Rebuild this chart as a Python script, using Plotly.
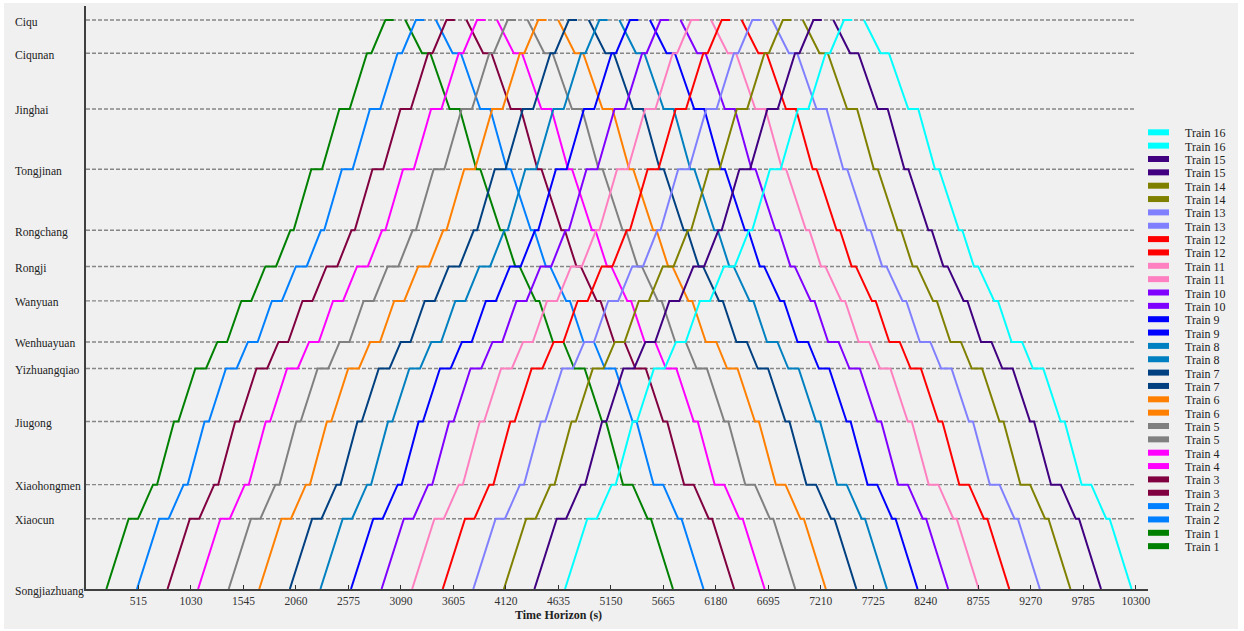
import plotly.graph_objects as go

# Stations from south (bottom) to north (top) and their line positions (m)
stations = ["Songjiazhuang", "Xiaocun", "Xiaohongmen", "Jiugong", "Yizhuangqiao",
            "Wenhuayuan", "Wanyuan", "Rongji", "Rongchang", "Tongjinan",
            "Jinghai", "Ciqunan", "Ciqu"]
station_pos = [0, 2631, 3906, 6272, 8254, 9247, 10785, 12075, 13429, 15714,
               17969, 20056, 21300]

# Running profile, seconds after leaving Songjiazhuang
# up run: arrival / departure at Xiaocun ... Ciqu
up_arr = [219, 458, 664, 873, 1089, 1324, 1560, 1805, 2011, 2286, 2557, 2737]
up_dep = [311, 497, 706, 978, 1184, 1422, 1665, 1837, 2116, 2387, 2600, 2819]
# down run: leaves Ciqu, then arrival / departure at Ciqunan ... Xiaocun, arrival at Songjiazhuang
down_start = 2933
down_arr = [3097, 3368, 3630, 3865, 4012, 4211, 4382, 4591, 4863, 5069, 5310, 5559]
down_dep = [3178, 3466, 3669, 3898, 4054, 4248, 4484, 4692, 4902, 5163, 5343]

# Trains: first departure from Songjiazhuang (s) and colour
train_names = ["Train %d" % k for k in range(1, 17)]
train_depart = [200, 500, 800, 1100, 1400, 1700, 2000, 2300,
                2600, 2900, 3200, 3500, 3800, 4100, 4400, 4700]
train_colors = ["#008000", "#0080FF", "#800040", "#FF00FF", "#808080", "#FF8000",
                "#004080", "#0080C0", "#0000FF", "#8000FF", "#FF80C0", "#FF0000",
                "#8080FF", "#808000", "#400080", "#00FFFF"]

x_ticks = [515, 1030, 1545, 2060, 2575, 3090, 3605, 4120, 4635, 5150,
           5665, 6180, 6695, 7210, 7725, 8240, 8755, 9270, 9785, 10300]

X_MAX = 10420
Y_MAX = 21824
FONT = "Liberation Serif"

fig = go.Figure()

for name, d0, col in zip(train_names, train_depart, train_colors):
    # northbound
    xs, ys = [d0], [station_pos[0]]
    for k in range(1, len(stations)):
        xs += [d0 + up_arr[k - 1], d0 + up_dep[k - 1]]
        ys += [station_pos[k], station_pos[k]]
    fig.add_trace(go.Scatter(x=xs, y=ys, mode="lines", name=name,
                             line=dict(color=col, width=2), showlegend=False,
                             hoverinfo="skip"))
    # southbound
    xs, ys = [d0 + down_start], [station_pos[-1]]
    n = len(stations)
    for j in range(n - 2):
        pos = station_pos[n - 2 - j]
        xs += [d0 + down_arr[j], d0 + down_dep[j]]
        ys += [pos, pos]
    xs.append(d0 + down_arr[-1])
    ys.append(station_pos[0])
    fig.add_trace(go.Scatter(x=xs, y=ys, mode="lines", name=name,
                             line=dict(color=col, width=2), showlegend=False,
                             hoverinfo="skip"))

L, R, T, B = 86, 96, 6, 42
W, H = 1244, 631
pw, ph = W - L - R, H - T - B


def px_x(p):
    return (p - L) / pw


def px_y(p):
    return (H - B - p) / ph


shapes = [
    # panel background
    dict(type="rect", xref="paper", yref="paper", layer="below",
         x0=px_x(4), x1=px_x(1238), y0=px_y(629), y1=px_y(3),
         fillcolor="#F0F0F0", line=dict(width=0)),
]
# station reference lines
for pos in station_pos[1:]:
    shapes.append(dict(type="line", xref="x", yref="y", layer="below",
                       x0=0, x1=x_ticks[-1], y0=pos, y1=pos,
                       line=dict(color="#868686", width=1.4, dash="4px,2px")))

annotations = []
for nm, pos in zip(stations, station_pos):
    annotations.append(dict(text=nm, xref="paper", yref="y", x=px_x(13), y=pos,
                            xanchor="left", yanchor="middle", yshift=-2,
                            showarrow=False,
                            font=dict(family=FONT, size=11.6, color="#222222")))

annotations.append(dict(text="<b>Time Horizon (s)</b>", xref="paper", yref="paper",
                        x=px_x(558.5), y=px_y(615), xanchor="center",
                        yanchor="middle", showarrow=False,
                        font=dict(family=FONT, size=12, color="#222222")))

# legend drawn as swatches + labels, Train 16 at the top
leg_top, leg_step = 132.3, 13.35
order = list(range(len(train_names)))[::-1]
row = 0
for idx in order:
    for _ in range(2):
        cy = leg_top + row * leg_step
        shapes.append(dict(type="rect", xref="paper", yref="paper",
                           x0=px_x(1148), x1=px_x(1169),
                           y0=px_y(cy + 3), y1=px_y(cy - 3),
                           fillcolor=train_colors[idx], line=dict(width=0)))
        annotations.append(dict(text=train_names[idx], xref="paper", yref="paper",
                                x=px_x(1183), y=px_y(cy + 1), xanchor="left",
                                yanchor="middle", showarrow=False,
                                font=dict(family=FONT, size=12, color="#222222")))
        row += 1

fig.update_layout(
    width=W, height=H, autosize=False,
    margin=dict(l=L, r=R, t=T, b=B, pad=0),
    paper_bgcolor="#FFFFFF", plot_bgcolor="#F0F0F0",
    showlegend=False,
    shapes=shapes, annotations=annotations,
    xaxis=dict(range=[0, X_MAX], tickvals=x_ticks,
               ticktext=[str(v) for v in x_ticks],
               ticks="inside", ticklen=4, tickcolor="#303030", tickwidth=1,
               showline=True, linecolor="#404040", linewidth=2,
               showgrid=False, zeroline=False,
               tickfont=dict(family=FONT, size=11.5, color="#333333")),
    yaxis=dict(range=[0, Y_MAX], showticklabels=False, ticks="",
               showline=True, linecolor="#404040", linewidth=2,
               showgrid=False, zeroline=False),
)

fig.write_html("out.html")
